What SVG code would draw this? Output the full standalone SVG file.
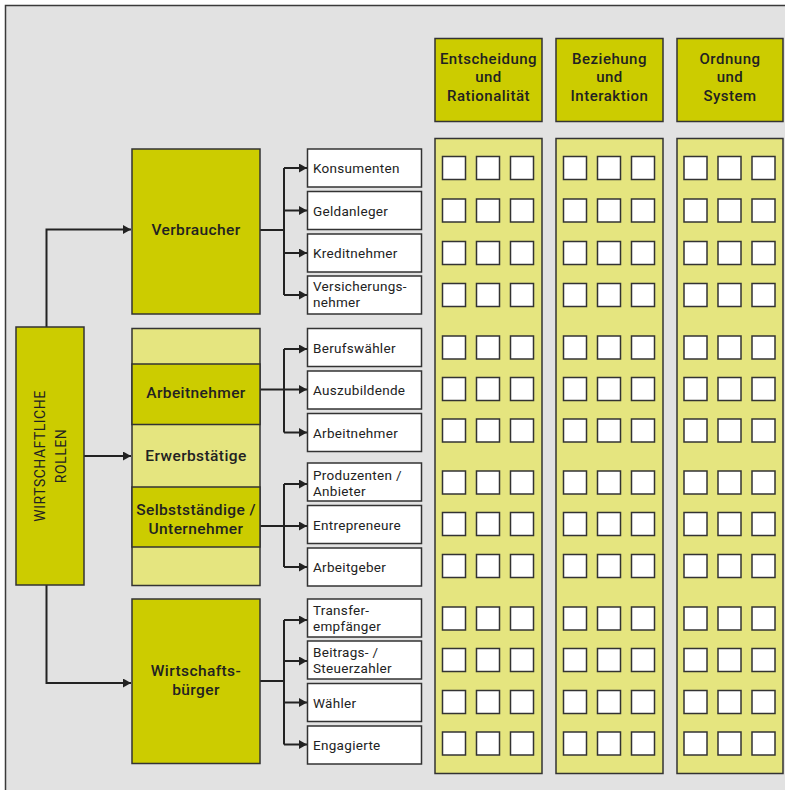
<svg xmlns="http://www.w3.org/2000/svg" xmlns:xlink="http://www.w3.org/1999/xlink" width="785" height="790" viewBox="0 0 785 790">
  <style>
    .frame { fill: #e2e2e2; stroke: #3a3a3a; stroke-width: 1.5; }
    .dark { fill: #cccc00; stroke: #333; stroke-width: 1.5; }
    .light { fill: #e5e57f; stroke: #333; stroke-width: 1.5; }
    .item { fill: #ffffff; stroke: #333; stroke-width: 1.5; }
    .sq { fill: #ffffff; stroke: #333; stroke-width: 1.5; }
    .wire { fill: none; stroke: #222; stroke-width: 2; }
    text { font-family: Roboto, "Noto Sans", sans-serif; fill: #222; }
    .lbl { font-size: 15.5px; font-weight: 500; letter-spacing: 0.4px; text-anchor: middle; }
    .hd { font-size: 15px; font-weight: 500; letter-spacing: 0.5px; text-anchor: middle; }
    .it { font-size: 13.5px; letter-spacing: 0.3px; }
    .rot { font-size: 14px; letter-spacing: 0.5px; text-anchor: middle; }
  </style>
  <defs>
    <marker id="arrow" markerUnits="userSpaceOnUse" markerWidth="9" markerHeight="10" refX="8" refY="4.5" orient="auto">
      <path d="M0,0 L8,4.5 L0,9 z" fill="#222"/>
    </marker>
    <!-- one row of check squares across the three columns -->
    <g id="row">
      <rect class="sq" x="442.5" y="-11.5" width="23" height="23"/>
      <rect class="sq" x="476.5" y="-11.5" width="23" height="23"/>
      <rect class="sq" x="510.5" y="-11.5" width="23" height="23"/>
      <rect class="sq" x="563.5" y="-11.5" width="23" height="23"/>
      <rect class="sq" x="597.5" y="-11.5" width="23" height="23"/>
      <rect class="sq" x="631.5" y="-11.5" width="23" height="23"/>
      <rect class="sq" x="684" y="-11.5" width="23" height="23"/>
      <rect class="sq" x="718" y="-11.5" width="23" height="23"/>
      <rect class="sq" x="752" y="-11.5" width="23" height="23"/>
    </g>
  </defs>

  <rect class="frame" x="5.5" y="5.5" width="800" height="800"/>

  <!-- connectors -->
  <g id="connectors">
    <path class="wire" d="M46.5,327 V229.5 H131" marker-end="url(#arrow)"/>
    <path class="wire" d="M84,456 H131" marker-end="url(#arrow)"/>
    <path class="wire" d="M46.5,585 V683 H131" marker-end="url(#arrow)"/>

    <path class="wire" d="M260,230 H284"/>
    <path class="wire" d="M284,168 V295"/>
    <path class="wire" d="M284,168 H307" marker-end="url(#arrow)"/>
    <path class="wire" d="M284,210.5 H307" marker-end="url(#arrow)"/>
    <path class="wire" d="M284,253 H307" marker-end="url(#arrow)"/>
    <path class="wire" d="M284,295 H307" marker-end="url(#arrow)"/>

    <path class="wire" d="M260,389.5 H307" marker-end="url(#arrow)"/>
    <path class="wire" d="M284,349 V432.5"/>
    <path class="wire" d="M284,349 H307" marker-end="url(#arrow)"/>
    <path class="wire" d="M284,432.5 H307" marker-end="url(#arrow)"/>

    <path class="wire" d="M260,526 H307" marker-end="url(#arrow)"/>
    <path class="wire" d="M284,484 V567"/>
    <path class="wire" d="M284,484 H307" marker-end="url(#arrow)"/>
    <path class="wire" d="M284,567 H307" marker-end="url(#arrow)"/>

    <path class="wire" d="M260,681 H284"/>
    <path class="wire" d="M284,620 V744.5"/>
    <path class="wire" d="M284,620 H307" marker-end="url(#arrow)"/>
    <path class="wire" d="M284,661 H307" marker-end="url(#arrow)"/>
    <path class="wire" d="M284,702.5 H307" marker-end="url(#arrow)"/>
    <path class="wire" d="M284,744.5 H307" marker-end="url(#arrow)"/>
  </g>

  <!-- root -->
  <g id="rollen">
    <rect class="dark" x="16" y="327" width="68" height="258"/>
    <text class="rot" transform="translate(45,456) rotate(-90)">WIRTSCHAFTLICHE</text>
    <text class="rot" transform="translate(66,456) rotate(-90)">ROLLEN</text>
  </g>

  <!-- role groups -->
  <g id="verbraucher">
    <rect class="dark" x="132" y="149" width="128" height="165"/>
    <text class="lbl" x="196" y="235">Verbraucher</text>
  </g>
  <g id="erwerbstaetige">
    <rect class="light" x="132" y="328.5" width="128" height="257"/>
    <text class="lbl" x="196" y="461">Erwerbstätige</text>
  </g>
  <g id="arbeitnehmer-gruppe">
    <rect class="dark" x="132" y="364" width="128" height="60.5"/>
    <text class="lbl" x="196" y="398">Arbeitnehmer</text>
  </g>
  <g id="selbststaendige">
    <rect class="dark" x="132" y="487" width="128" height="60"/>
    <text class="lbl" x="196" y="515">Selbstständige /</text>
    <text class="lbl" x="196" y="534">Unternehmer</text>
  </g>
  <g id="wirtschaftsbuerger">
    <rect class="dark" x="132" y="599" width="128" height="164.5"/>
    <text class="lbl" x="196" y="676">Wirtschafts-</text>
    <text class="lbl" x="196" y="694.5">bürger</text>
  </g>

  <!-- individual roles -->
  <g id="konsumenten"><rect class="item" x="307.5" y="149" width="114" height="38"/><text class="it" x="313" y="173">Konsumenten</text></g>
  <g id="geldanleger"><rect class="item" x="307.5" y="191.5" width="114" height="38"/><text class="it" x="313" y="215.5">Geldanleger</text></g>
  <g id="kreditnehmer"><rect class="item" x="307.5" y="234" width="114" height="38"/><text class="it" x="313" y="258">Kreditnehmer</text></g>
  <g id="versicherungsnehmer"><rect class="item" x="307.5" y="276" width="114" height="38"/><text class="it" x="313" y="291">Versicherungs-</text><text class="it" x="313" y="307">nehmer</text></g>

  <g id="berufswaehler"><rect class="item" x="307.5" y="328.5" width="114" height="38"/><text class="it" x="313" y="352.5">Berufswähler</text></g>
  <g id="auszubildende"><rect class="item" x="307.5" y="371" width="114" height="38"/><text class="it" x="313" y="395">Auszubildende</text></g>
  <g id="arbeitnehmer"><rect class="item" x="307.5" y="413.5" width="114" height="38"/><text class="it" x="313" y="437.5">Arbeitnehmer</text></g>

  <g id="produzenten"><rect class="item" x="307.5" y="463" width="114" height="38"/><text class="it" x="313" y="479.5">Produzenten /</text><text class="it" x="313" y="495.5">Anbieter</text></g>
  <g id="entrepreneure"><rect class="item" x="307.5" y="505.5" width="114" height="38"/><text class="it" x="313" y="529.5">Entrepreneure</text></g>
  <g id="arbeitgeber"><rect class="item" x="307.5" y="548" width="114" height="38"/><text class="it" x="313" y="572">Arbeitgeber</text></g>

  <g id="transferempfaenger"><rect class="item" x="307.5" y="599" width="114" height="38"/><text class="it" x="313" y="615">Transfer-</text><text class="it" x="313" y="631">empfänger</text></g>
  <g id="steuerzahler"><rect class="item" x="307.5" y="641" width="114" height="38"/><text class="it" x="313" y="656.5">Beitrags- /</text><text class="it" x="313" y="672.5">Steuerzahler</text></g>
  <g id="waehler"><rect class="item" x="307.5" y="683.5" width="114" height="38"/><text class="it" x="313" y="707.5">Wähler</text></g>
  <g id="engagierte"><rect class="item" x="307.5" y="726" width="114" height="38"/><text class="it" x="313" y="750">Engagierte</text></g>

  <!-- dimension headers -->
  <g id="entscheidung">
    <rect class="dark" x="435" y="38.5" width="107" height="83"/>
    <text class="hd" x="488.5" y="63.5">Entscheidung</text>
    <text class="hd" x="488.5" y="81.5">und</text>
    <text class="hd" x="488.5" y="100.5">Rationalität</text>
  </g>
  <g id="beziehung">
    <rect class="dark" x="556" y="38.5" width="107" height="83"/>
    <text class="hd" x="609.5" y="63.5">Beziehung</text>
    <text class="hd" x="609.5" y="81.5">und</text>
    <text class="hd" x="609.5" y="100.5">Interaktion</text>
  </g>
  <g id="ordnung">
    <rect class="dark" x="677" y="38.5" width="106" height="83"/>
    <text class="hd" x="730" y="63.5">Ordnung</text>
    <text class="hd" x="730" y="81.5">und</text>
    <text class="hd" x="730" y="100.5">System</text>
  </g>

  <!-- dimension columns -->
  <g id="spalten">
    <rect class="light" x="435" y="138.5" width="107" height="635"/>
    <rect class="light" x="556" y="138.5" width="107" height="635"/>
    <rect class="light" x="677" y="138.5" width="106" height="635"/>
  </g>

  <!-- check squares, one row per role -->
  <g id="raster">
    <use xlink:href="#row" y="168"/>
    <use xlink:href="#row" y="210.5"/>
    <use xlink:href="#row" y="253"/>
    <use xlink:href="#row" y="295"/>
    <use xlink:href="#row" y="347.5"/>
    <use xlink:href="#row" y="389"/>
    <use xlink:href="#row" y="430.5"/>
    <use xlink:href="#row" y="482.5"/>
    <use xlink:href="#row" y="524"/>
    <use xlink:href="#row" y="566"/>
    <use xlink:href="#row" y="618.5"/>
    <use xlink:href="#row" y="660"/>
    <use xlink:href="#row" y="702"/>
    <use xlink:href="#row" y="743.5"/>
  </g>
</svg>
